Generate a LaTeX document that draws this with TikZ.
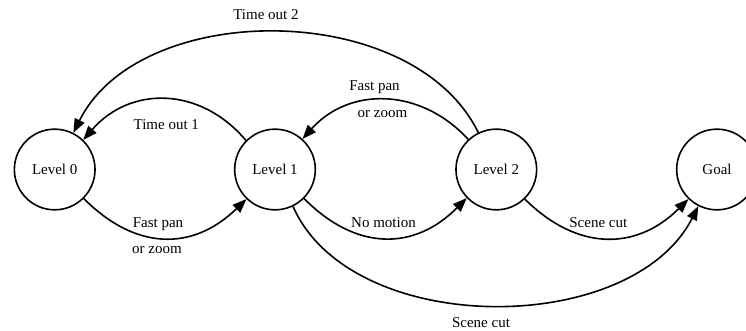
\documentclass[tikz,border=0pt]{standalone}
\usepackage{fontspec}
\setmainfont{Liberation Serif}
\usetikzlibrary{arrows.meta}
\begin{document}
\begin{tikzpicture}[x=0.75pt,y=-0.75pt,
  state/.style={draw, circle, line width=1.2pt, minimum size=60.5pt, inner sep=0pt,
    font=\fontsize{11.25}{13}\selectfont},
  trans/.style={line width=1.2pt, -{Triangle[length=10.5pt,width=8pt]}},
  lbl/.style={inner sep=0pt, anchor=base, font=\fontsize{11.25}{13}\selectfont}]
\clip (0,0) rectangle (746,331);

% states
\node[state] (L0) at (54.7,169.5) {Level 0};
\node[state] (L1) at (275,169.5) {Level 1};
\node[state] (L2) at (496.3,169.5) {Level 2};
\node[state] (G)  at (717,169.5) {Goal};

% forward transitions
\draw[trans] (L0.-45) .. controls (136,251) and (193,251) .. (L1.-134);
\draw[trans] (L1.-45) .. controls (356,251) and (414,251) .. (L2.-136);
\draw[trans] (L2.-46) .. controls (577,251) and (636,251) .. (G.-134);
\draw[trans] (L1.-64) .. controls (351,338) and (631,338) .. (G.-117);

% backward transitions
\draw[trans] (L1.135) .. controls (200,86) and (130,86) .. (L0.46);
\draw[trans] (L2.133) .. controls (420,87) and (349,87) .. (L1.48);
\draw[trans] (L2.116) .. controls (413,-1) and (140,-1) .. (L0.63);

% labels
\node[lbl] (t2)  at (266,20)    {Time out 2};
\node[lbl] (t1)  at (166.3,129.3) {Time out 1};
\node[lbl] (fa)  at (158,228)   {Fast pan};
\node[lbl] (fb)  at (157,254)   {or zoom};
\node[lbl] (fc)  at (374.5,90.7) {Fast pan};
\node[lbl] (fd)  at (382.5,117.3) {or zoom};
\node[lbl] (nm)  at (383.5,227.7) {No motion};
\node[lbl] (sc1) at (598.3,227.7) {Scene cut};
\node[lbl] (sc2) at (481,327.7)  {Scene cut};
\end{tikzpicture}
\end{document}
